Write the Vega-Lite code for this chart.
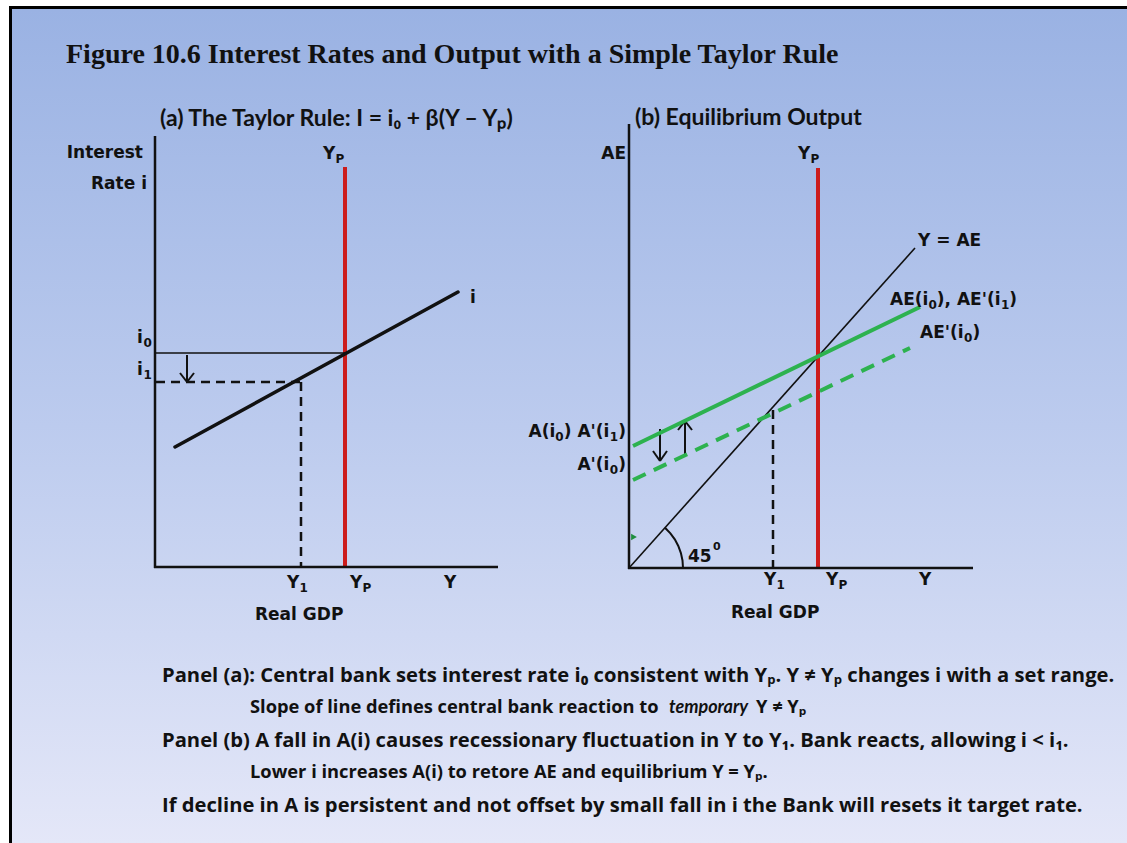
{
  "$schema": "https://vega.github.io/schema/vega-lite/v6.json",
  "width": 1127,
  "height": 843,
  "autosize": {"type": "fit", "contains": "padding"},
  "padding": 0,
  "background": "white",
  "config": {"view": {"stroke": null}},
  "datasets": {
    "frame": [{"x": 9, "y": 6, "x2": 1127, "y2": 843}],
    "panel": [{"x": 12, "y": 9, "x2": 1127, "y2": 843}],
    "axes": [
      {"x": 155, "y": 136, "x2": 155, "y2": 568},
      {"x": 154, "y": 567, "x2": 498, "y2": 567},
      {"x": 629, "y": 124, "x2": 629, "y2": 569},
      {"x": 628, "y": 568, "x2": 973, "y2": 568}
    ],
    "red": [
      {"x": 345, "y": 167, "x2": 345, "y2": 567},
      {"x": 818, "y": 168, "x2": 818, "y2": 568}
    ],
    "taylor": [{"x": 175, "y": 447, "x2": 458, "y2": 292}],
    "thin": [
      {"x": 155, "y": 353, "x2": 345, "y2": 353},
      {"x": 629, "y": 568, "x2": 915, "y2": 248}
    ],
    "arrows": [
      {"x": 187, "y": 355, "x2": 187, "y2": 382},
      {"x": 180, "y": 373, "x2": 187, "y2": 382},
      {"x": 194, "y": 373, "x2": 187, "y2": 382},
      {"x": 660, "y": 429, "x2": 660, "y2": 461},
      {"x": 653, "y": 451, "x2": 660, "y2": 461},
      {"x": 667, "y": 451, "x2": 660, "y2": 461},
      {"x": 685, "y": 455, "x2": 685, "y2": 421},
      {"x": 678, "y": 430, "x2": 685, "y2": 421},
      {"x": 692, "y": 430, "x2": 685, "y2": 421}
    ],
    "dashed": [
      {"x": 156, "y": 382, "x2": 300, "y2": 382},
      {"x": 301, "y": 382, "x2": 301, "y2": 567},
      {"x": 773, "y": 410, "x2": 773, "y2": 568}
    ],
    "greenSolid": [{"x": 633, "y": 446, "x2": 920, "y2": 307}],
    "greenDashed": [{"x": 633, "y": 480, "x2": 910, "y2": 348}],
    "arc": [
      {"o": 0, "x": 683, "y": 568},
      {"o": 1, "x": 682.5, "y": 560.5},
      {"o": 2, "x": 680.9, "y": 553.1},
      {"o": 3, "x": 678.3, "y": 546.0},
      {"o": 4, "x": 674.8, "y": 539.4},
      {"o": 5, "x": 670.4, "y": 533.3},
      {"o": 6, "x": 665.0, "y": 527.7}
    ],
    "flag": [{"x": 634, "y": 537}],
    "title": [{"x": 66, "y": 63, "t": "Figure 10.6 Interest Rates and Output with a Simple Taylor Rule"}],
    "subtitles": [
      {"x": 160, "y": 126, "t": "(a) The Taylor Rule: I = i₀ + β(Y – Yₚ)"},
      {"x": 635, "y": 125, "t": "(b) Equilibrium Output"}
    ],
    "labelsL": [
      {"x": 323, "y": 159, "t": "Y"},
      {"x": 470, "y": 303, "t": "i"},
      {"x": 137, "y": 343, "t": "i"},
      {"x": 137, "y": 375, "t": "i"},
      {"x": 287, "y": 588, "t": "Y"},
      {"x": 350, "y": 588, "t": "Y"},
      {"x": 444, "y": 588, "t": "Y"},
      {"x": 255, "y": 620, "t": "Real GDP"},
      {"x": 798, "y": 159, "t": "Y"},
      {"x": 918, "y": 246, "t": "Y = AE"},
      {"x": 890, "y": 305, "t": "AE(i"},
      {"x": 936.8, "y": 305, "t": "), AE'(i"},
      {"x": 1009.3, "y": 305, "t": ")"},
      {"x": 920, "y": 338, "t": "AE'(i"},
      {"x": 972.4, "y": 338, "t": ")"},
      {"x": 528.5, "y": 437, "t": "A(i"},
      {"x": 563.7, "y": 437, "t": ") A'(i"},
      {"x": 618.2, "y": 437, "t": ")"},
      {"x": 577.4, "y": 470, "t": "A'(i"},
      {"x": 618.2, "y": 470, "t": ")"},
      {"x": 688, "y": 562, "t": "45"},
      {"x": 764, "y": 585, "t": "Y"},
      {"x": 826, "y": 585, "t": "Y"},
      {"x": 919, "y": 585, "t": "Y"},
      {"x": 731, "y": 618, "t": "Real  GDP"}
    ],
    "subs": [
      {"x": 335.5, "y": 163, "t": "P"},
      {"x": 143.5, "y": 347, "t": "0"},
      {"x": 143.5, "y": 379, "t": "1"},
      {"x": 299.5, "y": 592, "t": "1"},
      {"x": 362.5, "y": 592, "t": "P"},
      {"x": 810.5, "y": 163, "t": "P"},
      {"x": 776.5, "y": 589, "t": "1"},
      {"x": 838.5, "y": 589, "t": "P"},
      {"x": 928.4, "y": 309, "t": "0"},
      {"x": 1000.9, "y": 309, "t": "1"},
      {"x": 964, "y": 342, "t": "0"},
      {"x": 555.3, "y": 441, "t": "0"},
      {"x": 609.8, "y": 441, "t": "1"},
      {"x": 609.8, "y": 474, "t": "0"}
    ],
    "labelsR": [
      {"x": 143, "y": 158, "t": "Interest"},
      {"x": 147, "y": 189, "t": "Rate  i"},
      {"x": 626, "y": 159, "t": "AE"}
    ],
    "sup": [{"x": 713, "y": 550, "t": "0"}],
    "notesBig": [
      {"x": 162, "y": 682, "t": "Panel (a): Central bank sets interest rate i₀ consistent with Yₚ. Y ≠ Yₚ changes i with a set range."},
      {"x": 162, "y": 747, "t": "Panel (b) A fall in A(i) causes recessionary fluctuation in Y to Y₁. Bank reacts, allowing i < i₁."},
      {"x": 162, "y": 812, "t": "If decline in A is persistent and not offset by small fall in i the Bank will resets it target rate."}
    ],
    "notesSmall": [
      {"x": 250, "y": 713, "t": "Slope of line defines central bank reaction to"},
      {"x": 756, "y": 713, "t": "Y ≠ Yₚ"},
      {"x": 250, "y": 778, "t": "Lower i increases A(i) to retore AE and equilibrium Y = Yₚ."}
    ],
    "notesItalic": [{"x": 669, "y": 713, "t": "temporary"}]
  },
  "encoding": {
    "x": {"field": "x", "type": "quantitative", "scale": {"domain": [0, 1127], "nice": false, "zero": false}, "axis": null},
    "y": {"field": "y", "type": "quantitative", "scale": {"domain": [0, 843], "nice": false, "zero": false, "reverse": true}, "axis": null}
  },
  "layer": [
    {"data": {"name": "frame"}, "mark": {"type": "rect", "color": "black"},
     "encoding": {"x2": {"field": "x2"}, "y2": {"field": "y2"}}},
    {"data": {"name": "panel"}, "mark": {"type": "rect", "color": {"gradient": "linear", "x1": 0, "y1": 0, "x2": 0, "y2": 1, "stops": [{"offset": 0, "color": "#9AB2E3"}, {"offset": 0.5, "color": "#BCCBEE"}, {"offset": 1, "color": "#E4E7F8"}]}},
     "encoding": {"x2": {"field": "x2"}, "y2": {"field": "y2"}}},
    {"data": {"name": "red"}, "mark": {"type": "rule", "color": "#CC1C1C", "strokeWidth": 4},
     "encoding": {"x2": {"field": "x2"}, "y2": {"field": "y2"}}},
    {"data": {"name": "axes"}, "mark": {"type": "rule", "color": "#111111", "strokeWidth": 2.5},
     "encoding": {"x2": {"field": "x2"}, "y2": {"field": "y2"}}},
    {"data": {"name": "taylor"}, "mark": {"type": "rule", "color": "#111111", "strokeWidth": 3.5, "strokeCap": "round"},
     "encoding": {"x2": {"field": "x2"}, "y2": {"field": "y2"}}},
    {"data": {"name": "thin"}, "mark": {"type": "rule", "color": "#111111", "strokeWidth": 1.6},
     "encoding": {"x2": {"field": "x2"}, "y2": {"field": "y2"}}},
    {"data": {"name": "arrows"}, "mark": {"type": "rule", "color": "#111111", "strokeWidth": 2},
     "encoding": {"x2": {"field": "x2"}, "y2": {"field": "y2"}}},
    {"data": {"name": "dashed"}, "mark": {"type": "rule", "color": "#111111", "strokeWidth": 2.5, "strokeDash": [9, 6]},
     "encoding": {"x2": {"field": "x2"}, "y2": {"field": "y2"}}},
    {"data": {"name": "greenSolid"}, "mark": {"type": "rule", "color": "#2DB24F", "strokeWidth": 4},
     "encoding": {"x2": {"field": "x2"}, "y2": {"field": "y2"}}},
    {"data": {"name": "greenDashed"}, "mark": {"type": "rule", "color": "#2DB24F", "strokeWidth": 4, "strokeDash": [14, 9]},
     "encoding": {"x2": {"field": "x2"}, "y2": {"field": "y2"}}},
    {"data": {"name": "arc"}, "mark": {"type": "line", "color": "#111111", "strokeWidth": 2},
     "encoding": {"order": {"field": "o", "type": "quantitative"}}},
    {"data": {"name": "flag"}, "mark": {"type": "point", "shape": "triangle-right", "filled": true, "color": "#1E8E3E", "size": 45, "opacity": 1}},
    {"data": {"name": "title"}, "mark": {"type": "text", "align": "left", "baseline": "alphabetic", "font": "Liberation Serif", "fontWeight": "bold", "fontSize": 28, "color": "#111111"},
     "encoding": {"text": {"field": "t"}}},
    {"data": {"name": "subtitles"}, "mark": {"type": "text", "align": "left", "baseline": "alphabetic", "font": "Lato", "fontWeight": "bold", "fontSize": 23, "color": "#111111"},
     "encoding": {"text": {"field": "t"}}},
    {"data": {"name": "labelsL"}, "mark": {"type": "text", "align": "left", "baseline": "alphabetic", "font": "DejaVu Sans", "fontWeight": "bold", "fontSize": 17, "color": "#111111"},
     "encoding": {"text": {"field": "t"}}},
    {"data": {"name": "subs"}, "mark": {"type": "text", "align": "left", "baseline": "alphabetic", "font": "DejaVu Sans", "fontWeight": "bold", "fontSize": 12, "color": "#111111"},
     "encoding": {"text": {"field": "t"}}},
    {"data": {"name": "labelsR"}, "mark": {"type": "text", "align": "right", "baseline": "alphabetic", "font": "DejaVu Sans", "fontWeight": "bold", "fontSize": 17, "color": "#111111"},
     "encoding": {"text": {"field": "t"}}},
    {"data": {"name": "sup"}, "mark": {"type": "text", "align": "left", "baseline": "alphabetic", "font": "DejaVu Sans", "fontWeight": "bold", "fontSize": 11, "color": "#111111"},
     "encoding": {"text": {"field": "t"}}},
    {"data": {"name": "notesBig"}, "mark": {"type": "text", "align": "left", "baseline": "alphabetic", "font": "Open Sans", "fontWeight": "bold", "fontSize": 20.2, "color": "#111111"},
     "encoding": {"text": {"field": "t"}}},
    {"data": {"name": "notesSmall"}, "mark": {"type": "text", "align": "left", "baseline": "alphabetic", "font": "Open Sans", "fontWeight": "bold", "fontSize": 18.3, "color": "#111111"},
     "encoding": {"text": {"field": "t"}}},
    {"data": {"name": "notesItalic"}, "mark": {"type": "text", "align": "left", "baseline": "alphabetic", "font": "Lato", "fontWeight": "bold", "fontStyle": "italic", "fontSize": 18, "color": "#111111"},
     "encoding": {"text": {"field": "t"}}}
  ]
}
